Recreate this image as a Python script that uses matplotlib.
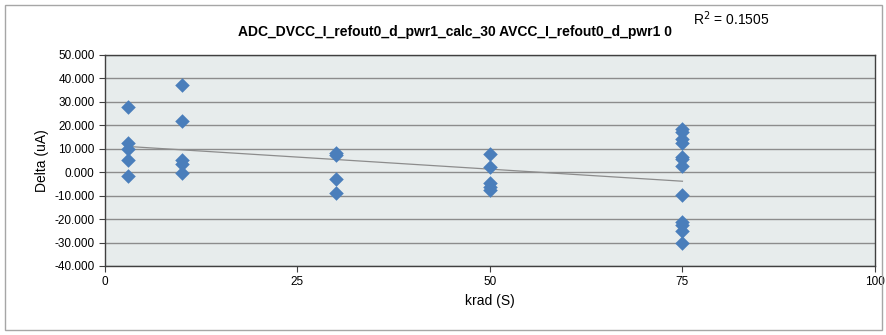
import numpy as np
import matplotlib.pyplot as plt
from matplotlib.patches import Rectangle

# krad dose levels and measured deltas (uA)
krad = [3, 3, 3, 3, 3,
        10, 10, 10, 10, 10,
        30, 30, 30, 30,
        50, 50, 50, 50, 50,
        75, 75, 75, 75, 75, 75, 75, 75, 75, 75, 75, 75]
delta = [27.7, 12.5, 10.0, 5.3, -1.8,
         37.0, 22.0, 5.0, 3.5, -0.5,
         8.1, 7.3, -2.9, -8.9,
         7.9, 2.2, -4.5, -6.2, -7.6,
         18.3, 17.3, 14.0, 12.6, 6.6, 5.5, 2.6, -9.7, -21.1, -22.5, -25.1, -30.3]

title = 'ADC_DVCC_I_refout0_d_pwr1_calc_30 AVCC_I_refout0_d_pwr1 0'
r2_text = 'R$^2$ = 0.1505'

plt.rcParams['font.family'] = ['Liberation Sans Narrow', 'Liberation Sans', 'DejaVu Sans']

fig = plt.figure(figsize=(8.86, 3.35), dpi=100)
fig.patches.append(Rectangle((0.006, 0.015), 0.989, 0.97, transform=fig.transFigure,
                             fill=False, edgecolor='#a6a6a6', lw=1))
ax = fig.add_axes([0.1185, 0.206, 0.869, 0.63])
ax.set_facecolor('#e7ecec')

x = np.array(krad)
y = np.array(delta)
ax.scatter(x, y, marker='D', s=55, color='#4a7ebb', zorder=3, linewidths=0)

# linear trendline
m, b = np.polyfit(x, y, 1)
xs = np.array([x.min(), x.max()])
ax.plot(xs, m * xs + b, color='#8c8c8c', lw=0.9, zorder=2)

ax.set_xlim(0, 100)
ax.set_ylim(-40, 50)
ax.set_xticks([0, 25, 50, 75, 100])
ax.set_yticks(np.arange(-40, 51, 10))
ax.yaxis.set_major_formatter(plt.FuncFormatter(lambda v, p: f'{v:.3f}'))
ax.grid(axis='y', color='#8c8c8c', lw=1)
ax.set_axisbelow(True)
for s in ax.spines.values():
    s.set_color('#404040')
    s.set_linewidth(1)
ax.tick_params(labelsize=8.5, length=4, color='#404040')

ax.set_xlabel('krad (S)', fontsize=10)
ax.set_ylabel('Delta (uA)', fontsize=10)
fig.text(0.513, 0.905, title, ha='center', va='center', fontsize=10, fontweight='bold')
fig.text(0.782, 0.945, r2_text, ha='left', va='center', fontsize=10)

fig.savefig('out.png', dpi=100)
